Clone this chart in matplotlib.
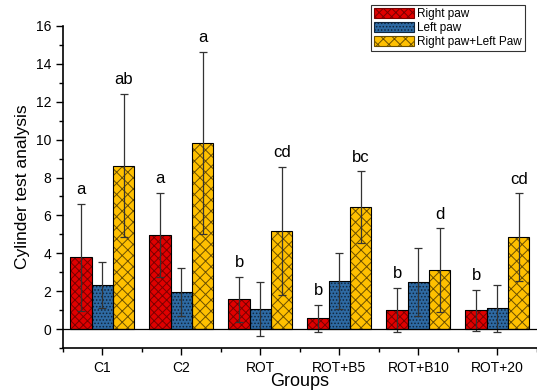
import numpy as np
import matplotlib
matplotlib.use("Agg")
import matplotlib.pyplot as plt
from matplotlib.patches import Patch
from matplotlib.ticker import MultipleLocator

plt.rcParams["font.family"] = ["Liberation Sans", "DejaVu Sans"]
plt.rcParams["hatch.linewidth"] = 0.7

groups = ["C1", "C2", "ROT", "ROT+B5", "ROT+B10", "ROT+20"]
right_paw = [3.8, 4.96, 1.57, 0.58, 1.0, 1.0]
right_err = [2.82, 2.23, 1.2, 0.72, 1.17, 1.09]
left_paw = [2.32, 1.98, 1.07, 2.56, 2.48, 1.09]
left_err = [1.21, 1.27, 1.41, 1.48, 1.79, 1.26]
both_paw = [8.63, 9.82, 5.18, 6.45, 3.11, 4.85]
both_err = [3.78, 4.8, 3.38, 1.88, 2.2, 2.32]
right_letters = ["a", "a", "b", "b", "b", "b"]
both_letters = ["ab", "a", "cd", "bc", "d", "cd"]

series = [
    ("Right paw", right_paw, right_err, "#e00000", "#7a0000", "xxxx"),
    ("Left paw", left_paw, left_err, "#2e6aa3", "#10263d", "....."),
    ("Right paw+Left Paw", both_paw, both_err, "#ffc000", "#6b4f00", "\\\\\\///"),
]

fig = plt.figure(figsize=(5.37, 3.92), dpi=100)
ax = fig.add_axes([0.117, 0.112, 0.883, 0.822])

x = np.arange(len(groups))
w = 0.27
handles = []
for i, (name, vals, errs, fc, hc, hatch) in enumerate(series):
    pos = x + (i - 1) * w
    ax.bar(pos, vals, w, color=fc, edgecolor=hc, hatch=hatch, linewidth=0, zorder=2)
    ax.bar(pos, vals, w, fill=False, edgecolor="black", linewidth=0.8, zorder=3)
    ax.errorbar(pos, vals, yerr=errs, fmt="none", ecolor="#333333",
                elinewidth=0.9, capsize=3, capthick=0.9, zorder=4)
    handles.append(Patch(facecolor=fc, edgecolor=hc, hatch=hatch, linewidth=0.8))

for i in range(len(groups)):
    ax.text(x[i] - w, right_paw[i] + right_err[i] + 0.35, right_letters[i],
            ha="center", va="bottom", fontsize=12)
    ax.text(x[i] + w, both_paw[i] + both_err[i] + 0.35, both_letters[i],
            ha="center", va="bottom", fontsize=12)

ax.axhline(0, color="black", linewidth=0.9, zorder=5)
ax.set_xlim(-0.5, 5.5)
ax.set_ylim(-1, 16)
ax.set_xticks(x)
ax.set_xticklabels(groups, fontsize=10)
ax.set_xticks(np.arange(-0.5, 6, 1), minor=True)
ax.yaxis.set_minor_locator(MultipleLocator(1))
ax.set_yticks(np.arange(0, 17, 2))
ax.tick_params(axis="y", labelsize=10, length=5, width=1)
ax.tick_params(axis="x", length=5, width=1, pad=4)
ax.tick_params(which="minor", length=3, width=1)
for s in ["top", "right"]:
    ax.spines[s].set_visible(False)
ax.spines["left"].set_linewidth(1.2)
ax.spines["bottom"].set_linewidth(1.2)
ax.set_ylabel("Cylinder test analysis", fontsize=12.5, labelpad=4)
ax.set_xlabel("Groups", fontsize=13, labelpad=-1)

leg = fig.legend(handles, [s[0] for s in series], loc="upper right",
                 bbox_to_anchor=(0.978, 0.988), fontsize=8.5, frameon=True,
                 fancybox=False, edgecolor="black", handlelength=3.4,
                 handleheight=1.0, handletextpad=0.3, labelspacing=0.15,
                 borderpad=0.25, borderaxespad=0)
leg.get_frame().set_linewidth(0.8)

fig.savefig("out.png", dpi=100)
